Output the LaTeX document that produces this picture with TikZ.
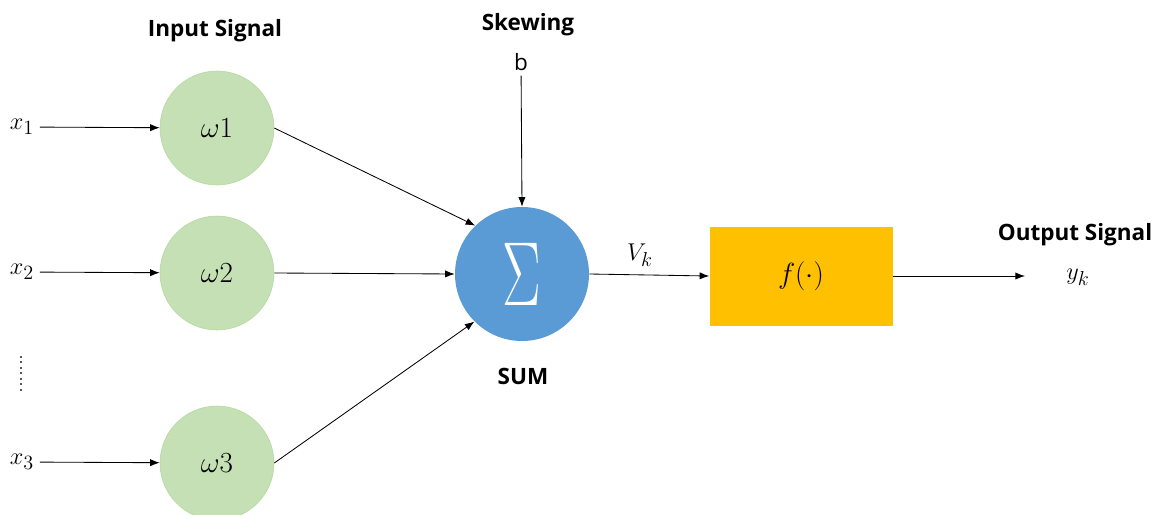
\documentclass[tikz,border=0pt]{standalone}
\usepackage{fontspec}
\newfontfamily\lblfont{Open Sans}
\usetikzlibrary{arrows.meta,positioning}
\definecolor{leaf}{HTML}{C5E0B4}
\definecolor{leafline}{HTML}{B4D8A0}
\definecolor{sky}{HTML}{5B9BD5}
\definecolor{amber}{HTML}{FFC000}

\begin{document}
\begin{tikzpicture}[x=0.025cm,y=-0.025cm,>={Latex[length=2.4mm,width=1.8mm]},
 weight/.style={circle,draw=leafline,fill=leaf,minimum size=114*0.025cm,
  inner sep=0pt,font=\fontsize{20}{22}\selectfont},
 adder/.style={circle,fill=sky,minimum size=134*0.025cm,inner sep=0pt,
  text=white,font=\fontsize{24.88}{28}\selectfont},
 actbox/.style={rectangle,fill=amber,minimum width=183*0.025cm,
  minimum height=99*0.025cm,inner sep=0pt,font=\fontsize{20}{22}\selectfont},
 title/.style={font=\lblfont\bfseries\fontsize{16}{18}\selectfont},
 var/.style={font=\fontsize{19}{21}\selectfont,inner sep=2pt},
 wire/.style={->,line width=0.6pt}]
\useasboundingbox (0,0) rectangle (1162,514);
% weights and the adder
\node[weight] (w1) at (217,128) {$\omega1$};
\node[weight] (w2) at (217,273) {$\omega2$};
\node[weight] (w3) at (217,463) {$\omega3$};
\node[adder] (sum) at (522,274) {\scalebox{1.65}[2.6]{$\Sigma$}};
\node[actbox] (act) at (801,276) {$f(\cdot)$};
% labels
\node[var] (x1) at (22,127) {$x_1$};
\node[var] (x2) at (22,272) {$x_2$};
\node[var] (x3) at (22,462) {$x_3$};
\node[title] (insig) at (215,31) {Input Signal};
\node[title] (skew) at (528,25) {Skewing};
\node[font=\lblfont\fontsize{16}{18}\selectfont] (bias) at (521,62) {b};
\node[title] (sumlbl) at (523,376) {SUM};
\node[var] (vk) at (640,255) {$V_k$};
\node[title] (outsig) at (1075,235) {Output Signal};
\node[var] (yk) at (1078,277) {$y_k$};
\coordinate (out) at (1025,276);
% connectors
\draw[wire,shorten <=2pt] (x1) -- (w1);
\draw[wire,shorten <=2pt] (x2) -- (w2);
\draw[wire,shorten <=2pt] (x3) -- (w3);
\draw[wire] (w1.east) -- (sum.134);
\draw[wire] (w2.east) -- (sum.west);
\draw[wire] (w3.east) -- (sum.225);
\draw[wire] (bias) -- (sum.north);
\draw[wire] (sum.east) -- (act.west);
\draw[wire] (act.east) -- (out);
\draw[line width=1.3pt,dash pattern=on 1.3pt off 2.6pt,gray!70!black] (21,356) -- (21,391);
\end{tikzpicture}
\end{document}
